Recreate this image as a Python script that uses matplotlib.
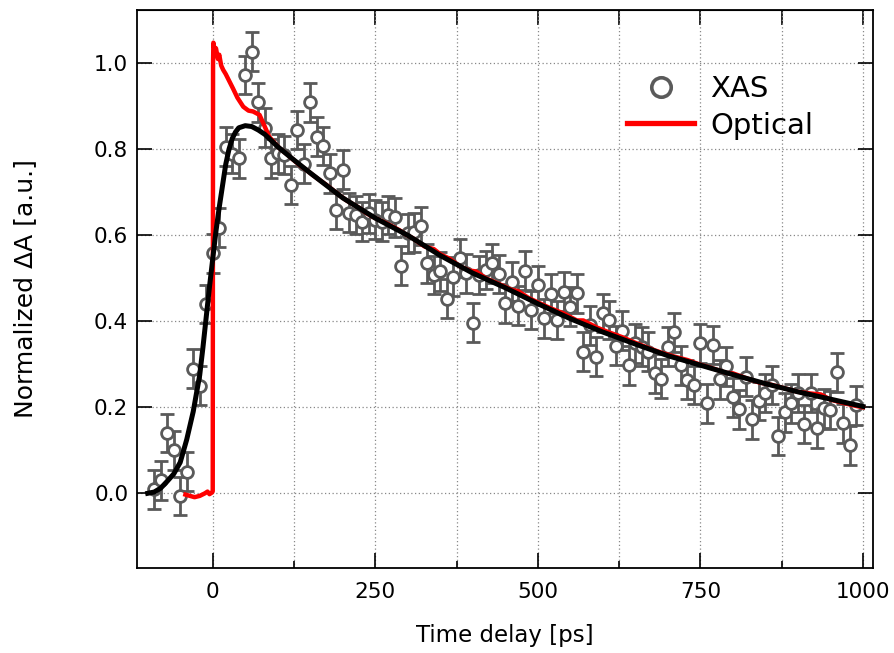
import matplotlib
matplotlib.use("Agg")
import matplotlib.pyplot as plt
from matplotlib.lines import Line2D
import numpy as np

# XAS data points (time delay in ps, normalized signal)
xas_t = list(range(-90, 1000, 10))
xas_y = [0.009, 0.03, 0.14, 0.10, -0.006, 0.05, 0.29, 0.25, 0.44,
         0.558, 0.618, 0.806, 0.79, 0.779, 0.973, 1.027, 0.909, 0.85, 0.779,
         0.791, 0.787, 0.717, 0.845, 0.767, 0.909, 0.829, 0.808, 0.744, 0.659,
         0.753, 0.653, 0.647, 0.632, 0.651, 0.636, 0.632, 0.647, 0.642, 0.529,
         0.605, 0.607, 0.622, 0.535,
         0.508, 0.516, 0.453, 0.504, 0.547, 0.512, 0.397, 0.508, 0.519, 0.535,
         0.510, 0.442, 0.492, 0.436, 0.518, 0.426, 0.484, 0.407, 0.464, 0.403,
         0.469, 0.434, 0.465, 0.329, 0.391, 0.318, 0.419, 0.403, 0.343, 0.378,
         0.298, 0.349, 0.341, 0.329, 0.279, 0.267, 0.341, 0.374, 0.298, 0.264,
         0.252, 0.349, 0.209, 0.345, 0.265, 0.295, 0.223, 0.195, 0.271, 0.172,
         0.215, 0.233, 0.252, 0.133, 0.188, 0.209, 0.233, 0.161, 0.233, 0.151,
         0.198, 0.194, 0.281, 0.163, 0.112, 0.205]
xas_err = 0.045

# optical transient
opt_t = [-42, -35, -28, -20, -12, -8, -5, -1, 0, 0.5, 1, 3, 5, 8, 10, 13, 16, 20,
         25, 31, 38, 47, 55, 62, 72, 80, 87, 95, 103, 113, 123, 134, 144, 154,
         164, 175, 185, 195, 205, 216, 226, 236, 246, 257, 267, 277, 287, 297,
         308, 317, 326, 340, 350, 365, 380, 395, 405, 420, 440, 460, 470, 485,
         500, 520, 540, 560, 570, 590, 610, 630, 650, 670, 690, 710, 730, 750,
         770, 790, 800, 820, 840, 860, 880, 900, 920, 935, 950, 970, 990, 1000]
opt_y = [-0.003, -0.006, -0.009, -0.006, 0.0, 0.004, -0.002, 0.002, 0.005, 1.0,
         1.048, 1.03, 1.035, 1.01, 1.02, 0.995, 0.985, 0.975, 0.96, 0.942, 0.92,
         0.899, 0.89, 0.888, 0.88, 0.853, 0.829, 0.815, 0.802, 0.79, 0.777,
         0.763, 0.752, 0.74, 0.729, 0.717, 0.705, 0.693, 0.682, 0.672, 0.663,
         0.652, 0.643, 0.635, 0.628, 0.62, 0.612, 0.602, 0.593, 0.583, 0.574,
         0.568, 0.556, 0.545, 0.528, 0.518, 0.516, 0.5, 0.487, 0.473, 0.47,
         0.455, 0.444, 0.43, 0.418, 0.402, 0.402, 0.386, 0.374, 0.363, 0.35,
         0.338, 0.327, 0.318, 0.31, 0.299, 0.29, 0.28, 0.279, 0.268, 0.258,
         0.252, 0.244, 0.236, 0.232, 0.23, 0.218, 0.21, 0.203, 0.2]

# fit curve
fit_t = [-100, -90, -80, -70, -60, -50, -40, -30, -20, -15, -10, -5, 0, 5, 10,
         15, 20, 25, 30, 35, 40, 50, 60, 70, 80, 100, 125, 150, 175, 200, 250,
         300, 350, 400, 450, 500, 550, 600, 650, 700, 750, 800, 850, 900, 950,
         1000]
fit_y = [0.0, 0.003, 0.012, 0.028, 0.045, 0.072, 0.125, 0.19, 0.275, 0.34,
         0.41, 0.48, 0.545, 0.61, 0.665, 0.715, 0.765, 0.80, 0.825, 0.84, 0.85,
         0.855, 0.853, 0.845, 0.835, 0.806, 0.775, 0.745, 0.716, 0.687, 0.64,
         0.60, 0.553, 0.512, 0.478, 0.441, 0.406, 0.375, 0.347, 0.32, 0.298,
         0.276, 0.255, 0.236, 0.219, 0.202]

W, H = 894, 653
fig = plt.figure(figsize=(W / 100, H / 100), dpi=100)
ax = fig.add_axes([137.3 / W, 1 - 567.7 / H, 735.4 / W, 557.7 / H])

gray = '#5a5a5a'
ax.errorbar(xas_t, xas_y, yerr=xas_err, fmt='o', ms=8.5, mfc='white', mec=gray,
            mew=2.0, ecolor=gray, elinewidth=2.0, capsize=4.8, capthick=2.0,
            zorder=3)
ax.plot(opt_t, opt_y, color='#ff0000', lw=3.2, zorder=4)
ax.plot(fit_t, fit_y, color='black', lw=3.6, zorder=5)

ax.set_xlim(-116, 1015)
ax.set_ylim(-0.173, 1.124)
ax.set_xticks([0, 250, 500, 750, 1000])
ax.set_xticks(np.arange(125, 1000, 250), minor=True)
ax.set_yticks([0.0, 0.2, 0.4, 0.6, 0.8, 1.0])
ax.set_yticklabels(['0.0', '0.2', '0.4', '0.6', '0.8', '1.0'])

ax.grid(True, which='both', axis='x', ls=(0, (1, 2)), color='#888888', lw=0.9)
ax.grid(True, which='major', axis='y', ls=(0, (1, 2)), color='#888888', lw=0.9)
ax.set_axisbelow(True)

ax.tick_params(which='both', direction='in', width=1.2, labelsize=15.5)
ax.tick_params(which='major', length=11, right=True)
ax.tick_params(which='minor', length=5.4)
ax.tick_params(axis='x', pad=10)
ax.tick_params(axis='y', pad=6.5)
for s in ax.spines.values():
    s.set_linewidth(1.3)

top = ax.secondary_xaxis('top')
top.set_xticks(np.arange(0, 1001, 125))
top.tick_params(direction='in', length=11, width=1.2, labeltop=False)

ax.set_xlabel('Time delay [ps]', fontsize=16.5, labelpad=16)
ax.set_ylabel('Normalized ΔA [a.u.]', fontsize=18, labelpad=41)

handles = [Line2D([], [], marker='o', ls='none', ms=14, mfc='white', mec=gray, mew=2.6),
           Line2D([], [], color='#ff0000', lw=3.8)]
ax.legend(handles, ['XAS', 'Optical'], loc='center', bbox_to_anchor=(0.7924, 0.8257),
          frameon=False, fontsize=21, handlelength=2.3, handletextpad=0.55,
          labelspacing=0.3, borderpad=0)

fig.savefig('out.png', dpi=100)
